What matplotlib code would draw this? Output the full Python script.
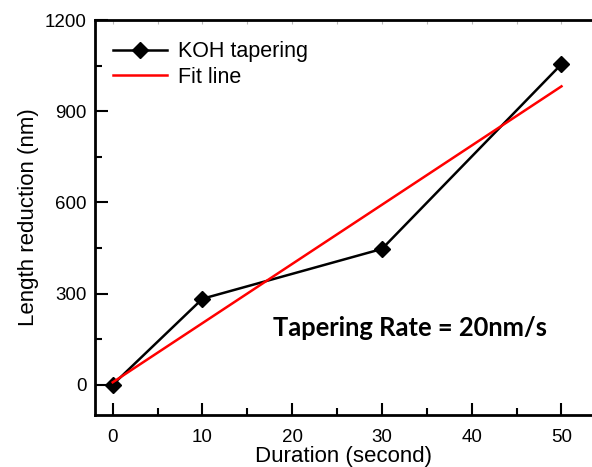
import matplotlib
matplotlib.use("Agg")
import matplotlib.pyplot as plt
from matplotlib.ticker import MultipleLocator

duration = [0, 10, 30, 50]
koh_reduction = [0, 283, 447, 1055]
fit_x = [0, 50]
fit_y = [8, 982]
x_ticks = [0, 10, 20, 30, 40, 50]
y_ticks = [0, 300, 600, 900, 1200]

plt.rcParams['font.family'] = ['Liberation Sans', 'DejaVu Sans']

fig = plt.figure(figsize=(5.92, 4.67), dpi=100)
ax = fig.add_axes([0.160, 0.111, 0.840, 0.846])

ax.plot(duration, koh_reduction, color='black', lw=1.8, marker='D', ms=8.5,
        label='KOH tapering', zorder=3)
ax.plot(fit_x, fit_y, color='red', lw=1.8, label='Fit line', zorder=4)

ax.set_xlim(-2, 53.4)
ax.set_ylim(-100, 1200)
ax.set_xticks(x_ticks)
ax.set_yticks(y_ticks)
ax.xaxis.set_minor_locator(MultipleLocator(5))
ax.yaxis.set_minor_locator(MultipleLocator(150))
ax.tick_params(which='major', direction='in', length=9, width=1.5, labelsize=13.5)
ax.tick_params(axis='x', which='major', pad=10)
ax.tick_params(axis='y', which='major', pad=6)
ax.tick_params(which='minor', direction='in', length=5, width=1.5)

for s in ['left', 'bottom', 'top']:
    ax.spines[s].set_linewidth(2)
ax.spines['right'].set_visible(False)

top = ax.secondary_xaxis('top')
top.set_xticks([0, 5, 10, 15, 20, 25, 30, 35, 40, 45, 50])
top.tick_params(direction='in', length=3, width=0.8, colors='#bbbbbb', labeltop=False)
top.set_xticklabels([])
top.spines['top'].set_visible(False)

ax.set_xlabel('Duration (second)', fontsize=16, labelpad=0)
ax.set_ylabel('Length reduction (nm)', fontsize=16, labelpad=4)

leg = ax.legend(loc='upper left', frameon=False, fontsize=15.5,
                handlelength=2.5, handletextpad=0.55, borderaxespad=0.3,
                labelspacing=0.22, bbox_to_anchor=(0.006, 0.985))

ax.text(0.358, 0.22, 'Tapering Rate = 20nm/s', transform=ax.transAxes,
        fontsize=18.4, fontweight='bold', family=['Lato', 'DejaVu Sans'],
        ha='left', va='center')

fig.savefig('out.png', dpi=100)
